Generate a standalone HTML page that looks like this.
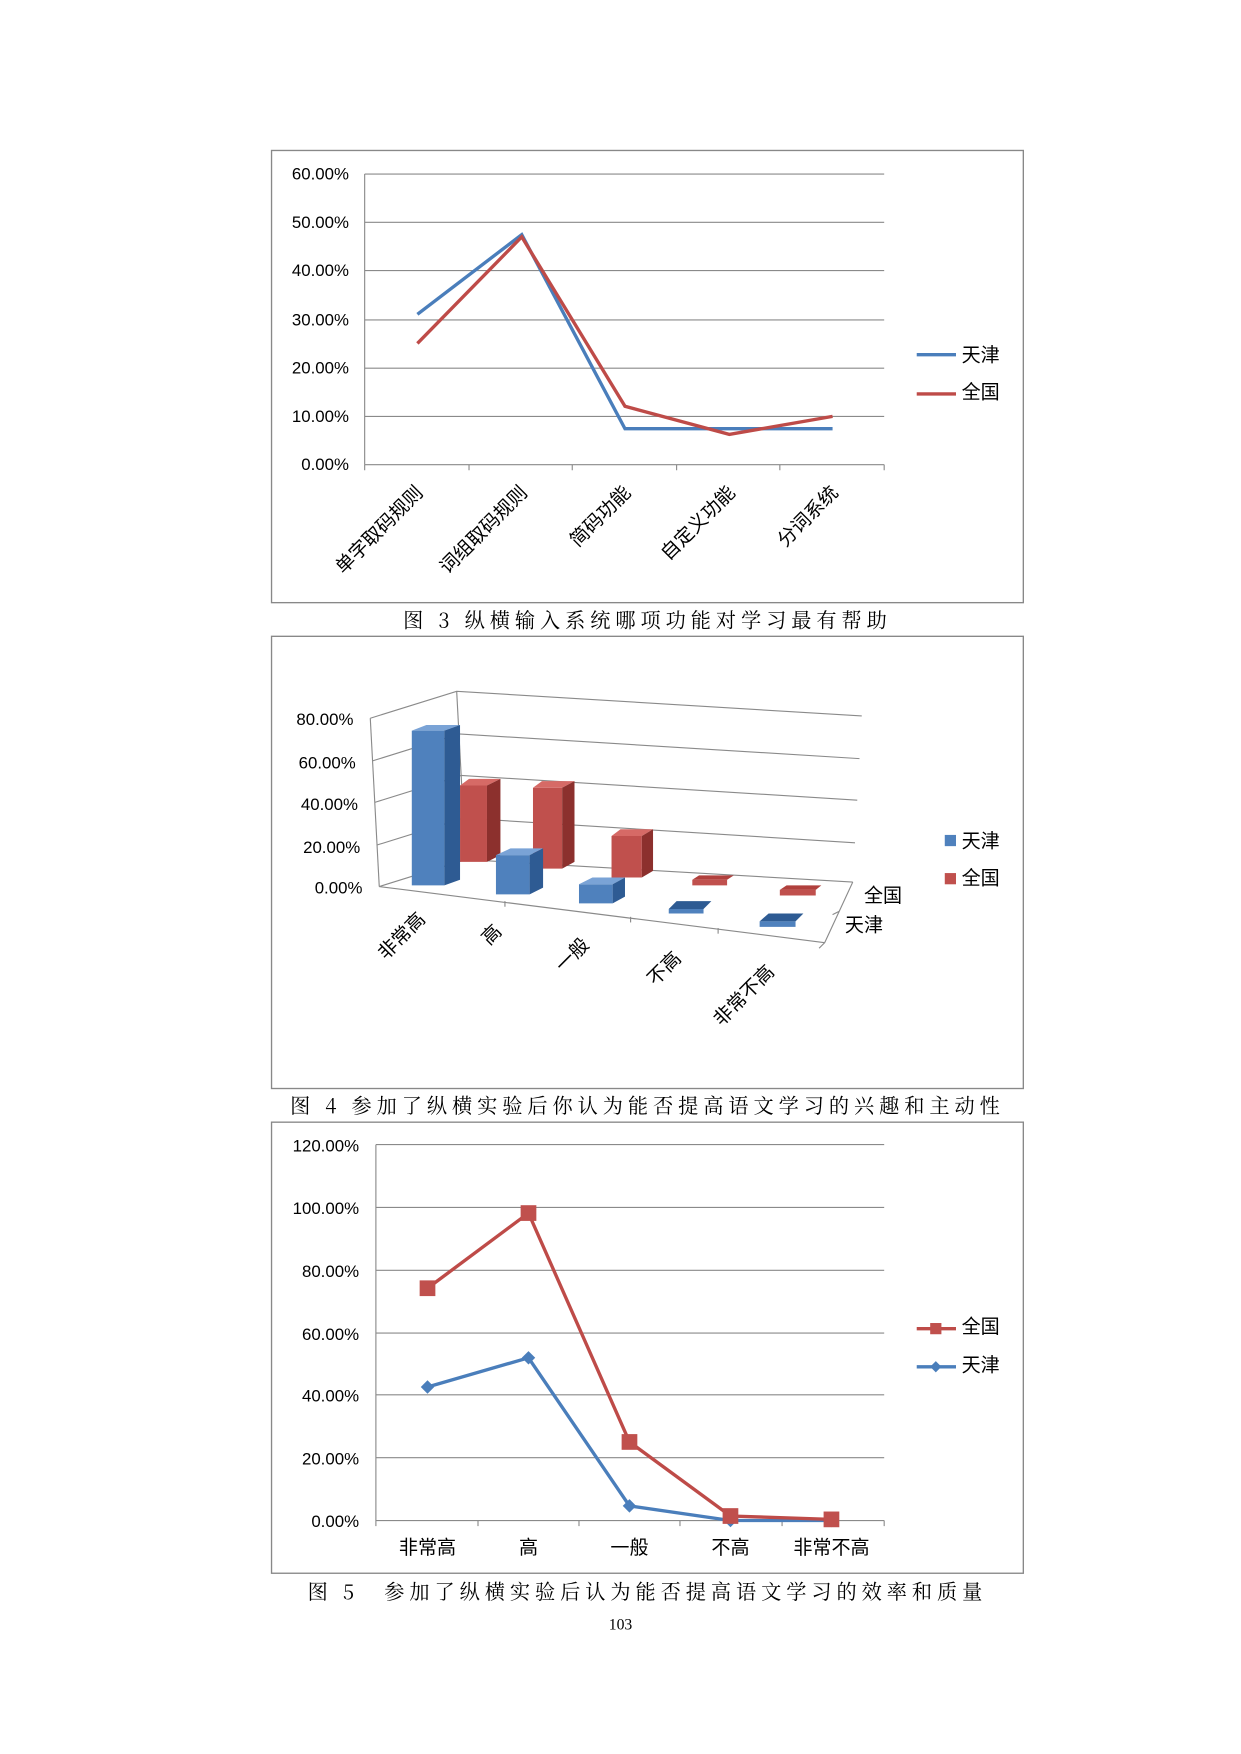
<!DOCTYPE html>
<html><head><meta charset="utf-8"><style>html,body{margin:0;padding:0;background:#fff}svg{display:block}</style></head>
<body>
<svg width="1241" height="1754" viewBox="0 0 1106 1563" xmlns="http://www.w3.org/2000/svg" font-family="Liberation Sans, Noto Sans CJK SC, sans-serif">
<!-- Chart 1 -->
<rect x="242" y="134" width="670" height="403" fill="#fff" stroke="#888" stroke-width="1.2"/>
<g stroke="#8a8a8a" stroke-width="1">
<line x1="325" y1="155" x2="788" y2="155"/><line x1="325" y1="198" x2="788" y2="198"/><line x1="325" y1="241" x2="788" y2="241"/><line x1="325" y1="285" x2="788" y2="285"/><line x1="325" y1="328" x2="788" y2="328"/><line x1="325" y1="371" x2="788" y2="371"/><line x1="325" y1="414" x2="788" y2="414"/>
<line x1="325" y1="155" x2="325" y2="414"/>
<line x1="325" y1="414" x2="325" y2="419"/><line x1="418" y1="414" x2="418" y2="419"/><line x1="510" y1="414" x2="510" y2="419"/><line x1="603" y1="414" x2="603" y2="419"/><line x1="695" y1="414" x2="695" y2="419"/><line x1="788" y1="414" x2="788" y2="419"/>
</g>
<g font-size="15" text-anchor="end" fill="#000">
<text x="311" y="160">60.00%</text><text x="311" y="203">50.00%</text><text x="311" y="246">40.00%</text><text x="311" y="290">30.00%</text><text x="311" y="333">20.00%</text><text x="311" y="376">10.00%</text><text x="311" y="419">0.00%</text>
</g>
<g font-size="17" text-anchor="end">
<text transform="translate(378,440) rotate(-45)">单字取码规则</text>
<text transform="translate(471,440) rotate(-45)">词组取码规则</text>
<text transform="translate(563,440) rotate(-45)">简码功能</text>
<text transform="translate(656,440) rotate(-45)">自定义功能</text>
<text transform="translate(748,440) rotate(-45)">分词系统</text>
</g>
<polyline points="372,280 465,209 557,382 650,382 742,382" fill="none" stroke="#4a7ebb" stroke-width="3"/>
<polyline points="372,306 465,211 557,362 650,387 742,371" fill="none" stroke="#be4b48" stroke-width="3"/>
<line x1="817" y1="316" x2="852" y2="316" stroke="#4a7ebb" stroke-width="3"/><text x="857" y="322" font-size="17">天津</text>
<line x1="817" y1="351" x2="852" y2="351" stroke="#be4b48" stroke-width="3"/><text x="857" y="355" font-size="17">全国</text>
<text x="577" y="559" font-size="18" text-anchor="middle" font-family="Noto Serif CJK SC, serif" letter-spacing="4.4">图 3 纵横输入系统哪项功能对学习最有帮助</text>

<!-- Chart 2 -->
<rect x="242" y="567" width="670" height="403" fill="#fff" stroke="#888" stroke-width="1.2"/>
<g stroke="#8a8a8a" stroke-width="1" fill="none">
<polyline points="330,640 407,616 768,638"/>
<polyline points="332,678 409,654 766,676"/>
<polyline points="334,715 411,691 764,713"/>
<polyline points="336,753 413,729 762,751"/>
<polyline points="338,790 415,766 760,786"/>
<line x1="330" y1="640" x2="338" y2="790"/>
<line x1="407" y1="616" x2="415" y2="766"/>
<line x1="338" y1="790" x2="735" y2="840"/>
<line x1="760" y1="786" x2="735" y2="840"/>
<line x1="735" y1="840" x2="730" y2="845"/><line x1="748" y1="812" x2="742" y2="815"/>
<line x1="450" y1="803" x2="450" y2="808"/><line x1="562" y1="817" x2="562" y2="822"/><line x1="640" y1="827" x2="640" y2="832"/>
</g>
<g font-size="15" text-anchor="end">
<text x="315" y="646">80.00%</text><text x="317" y="685">60.00%</text><text x="319" y="722">40.00%</text><text x="321" y="760">20.00%</text><text x="323" y="796">0.00%</text>
</g>
<g font-size="17" text-anchor="end">
<text transform="translate(380,820) rotate(-45)">非常高</text>
<text transform="translate(448,831) rotate(-45)">高</text>
<text transform="translate(526,843) rotate(-45)">一般</text>
<text transform="translate(608,855) rotate(-45)">不高</text>
<text transform="translate(691,867) rotate(-45)">非常不高</text>
</g>
<text x="770" y="804" font-size="17">全国</text><text x="753" y="830" font-size="17">天津</text>
<g>
<polygon points="410,700 434,700 434,768 410,768" fill="#c0504d"/><polygon points="410,700 418,694 446,694 434,700" fill="#d66a66"/><polygon points="434,700 446,694 446,762 434,768" fill="#8c302d"/>
<polygon points="475,702 501,702 501,774 475,774" fill="#c0504d"/><polygon points="475,702 483,696 512,696 501,702" fill="#d66a66"/><polygon points="501,702 512,696 512,768 501,774" fill="#8c302d"/>
<polygon points="545,745 572,745 572,782 545,782" fill="#c0504d"/><polygon points="545,745 553,739 582,739 572,745" fill="#d66a66"/><polygon points="572,745 582,739 582,776 572,782" fill="#8c302d"/>
<polygon points="617,784 648,784 654,780 623,780" fill="#b0403d"/><polygon points="617,784 648,784 648,789 617,789" fill="#c0504d"/>
<polygon points="695,793 727,793 732,789 701,789" fill="#b0403d"/><polygon points="695,793 727,793 727,798 695,798" fill="#c0504d"/>
</g>
<g>
<polygon points="367,651 396,651 396,789 367,789" fill="#4f81bd"/><polygon points="367,651 380,646 410,646 396,651" fill="#7aa3d6"/><polygon points="396,651 410,646 410,784 396,789" fill="#2e5b93"/>
<polygon points="442,762 472,762 472,797 442,797" fill="#4f81bd"/><polygon points="442,762 455,756 484,756 472,762" fill="#7aa3d6"/><polygon points="472,762 484,756 484,791 472,797" fill="#2e5b93"/>
<polygon points="516,788 546,788 546,805 516,805" fill="#4f81bd"/><polygon points="516,788 528,782 557,782 546,788" fill="#7aa3d6"/><polygon points="546,788 557,782 557,799 546,805" fill="#2e5b93"/>
<polygon points="596,810 627,810 634,803 603,803" fill="#2e5b93"/><polygon points="596,810 627,810 627,814 596,814" fill="#4f81bd"/>
<polygon points="677,821 709,821 716,814 685,814" fill="#2e5b93"/><polygon points="677,821 709,821 709,826 677,826" fill="#4f81bd"/>
</g>
<rect x="842" y="744" width="10" height="10" fill="#4f81bd"/><text x="857" y="755" font-size="17">天津</text>
<rect x="842" y="778" width="10" height="10" fill="#c0504d"/><text x="857" y="788" font-size="17">全国</text>
<text x="577" y="992" font-size="18" text-anchor="middle" font-family="Noto Serif CJK SC, serif" letter-spacing="4.4">图 4 参加了纵横实验后你认为能否提高语文学习的兴趣和主动性</text>

<!-- Chart 3 -->
<rect x="242" y="1000" width="670" height="402" fill="#fff" stroke="#888" stroke-width="1.2"/>
<g stroke="#8a8a8a" stroke-width="1">
<line x1="335" y1="1020" x2="788" y2="1020"/><line x1="335" y1="1076" x2="788" y2="1076"/><line x1="335" y1="1132" x2="788" y2="1132"/><line x1="335" y1="1188" x2="788" y2="1188"/><line x1="335" y1="1243" x2="788" y2="1243"/><line x1="335" y1="1299" x2="788" y2="1299"/><line x1="335" y1="1355" x2="788" y2="1355"/>
<line x1="335" y1="1020" x2="335" y2="1355"/>
<line x1="335" y1="1355" x2="335" y2="1360"/><line x1="426" y1="1355" x2="426" y2="1360"/><line x1="516" y1="1355" x2="516" y2="1360"/><line x1="606" y1="1355" x2="606" y2="1360"/><line x1="697" y1="1355" x2="697" y2="1360"/><line x1="788" y1="1355" x2="788" y2="1360"/>
</g>
<g font-size="15" text-anchor="end">
<text x="320" y="1026">120.00%</text><text x="320" y="1082">100.00%</text><text x="320" y="1138">80.00%</text><text x="320" y="1194">60.00%</text><text x="320" y="1249">40.00%</text><text x="320" y="1305">20.00%</text><text x="320" y="1361">0.00%</text>
</g>
<g font-size="17" text-anchor="middle">
<text x="381" y="1385">非常高</text><text x="471" y="1385">高</text><text x="561" y="1385">一般</text><text x="651" y="1385">不高</text><text x="741" y="1385">非常不高</text>
</g>
<polyline points="381,1236 471,1210 561,1342 651,1355 741,1355" fill="none" stroke="#4a7ebb" stroke-width="3"/>
<g fill="#4a7ebb"><polygon points="381,1230 387,1236 381,1242 375,1236"/><polygon points="471,1204 477,1210 471,1216 465,1210"/><polygon points="561,1336 567,1342 561,1348 555,1342"/><polygon points="651,1349 657,1355 651,1361 645,1355"/><polygon points="741,1349 747,1355 741,1361 735,1355"/></g>
<polyline points="381,1148 471,1081 561,1285 651,1351 741,1354" fill="none" stroke="#be4b48" stroke-width="3"/>
<g fill="#c0504d"><rect x="374" y="1141" width="14" height="14"/><rect x="464" y="1074" width="14" height="14"/><rect x="554" y="1278" width="14" height="14"/><rect x="644" y="1344" width="14" height="14"/><rect x="734" y="1347" width="14" height="14"/></g>
<line x1="817" y1="1184" x2="852" y2="1184" stroke="#be4b48" stroke-width="3"/><rect x="829" y="1179" width="10" height="10" fill="#c0504d"/><text x="857" y="1188" font-size="17">全国</text>
<line x1="817" y1="1218" x2="852" y2="1218" stroke="#4a7ebb" stroke-width="3"/><polygon points="834,1213 839,1218 834,1223 829,1218" fill="#4a7ebb"/><text x="857" y="1222" font-size="17">天津</text>
<text x="577" y="1425" font-size="18" text-anchor="middle" font-family="Noto Serif CJK SC, serif" letter-spacing="4.4">图 5　参加了纵横实验后认为能否提高语文学习的效率和质量</text>
<text x="553" y="1452" font-size="14" text-anchor="middle" font-family="Liberation Serif, serif">103</text>
</svg>
</body></html>
